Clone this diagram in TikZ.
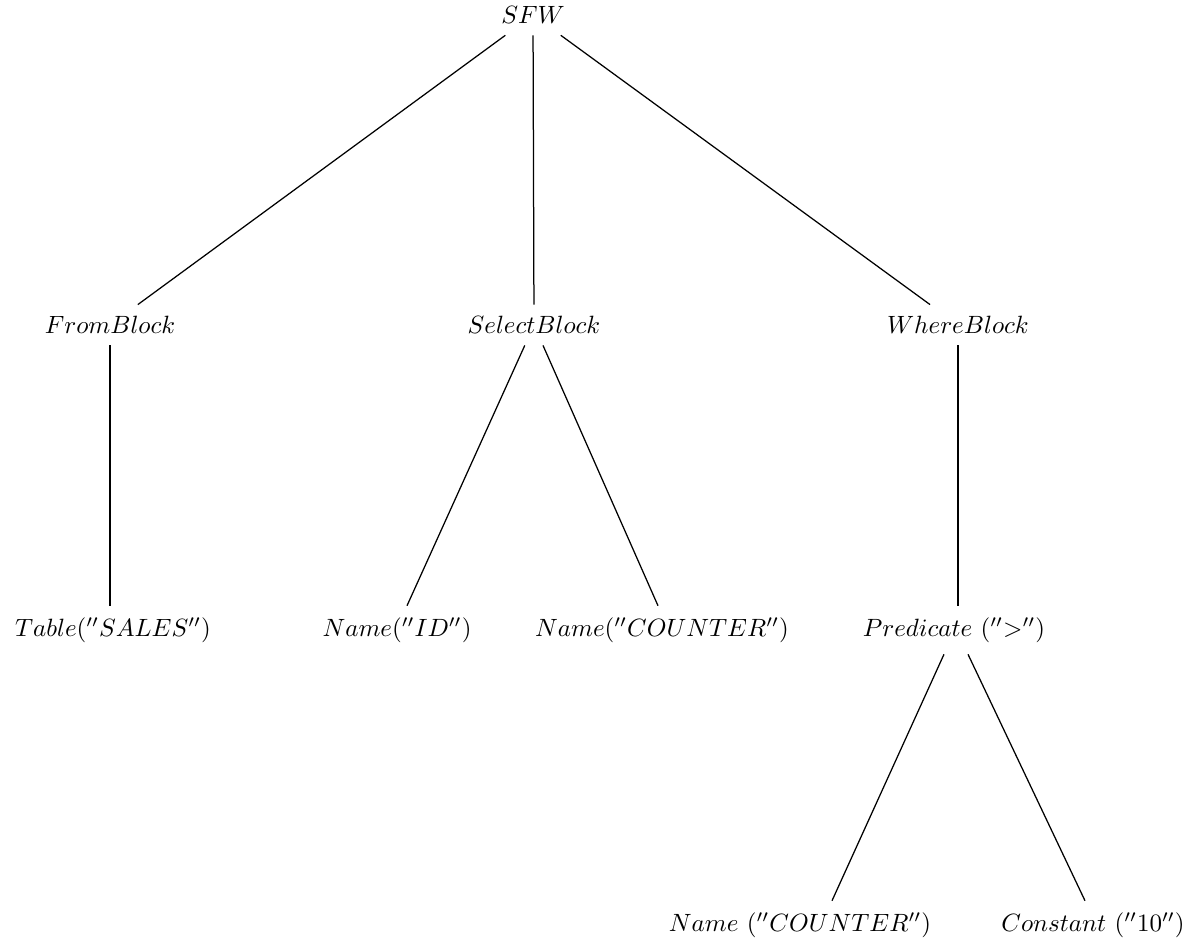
\documentclass[tikz,border=0pt]{standalone}
\begin{document}
\begin{tikzpicture}[x=0.4pt,y=-0.4pt,
  tn/.style={inner xsep=2pt,inner ysep=4.5pt},
  edge/.style={draw=black,line width=0.5pt}]
\useasboundingbox (0,0) rectangle (1194,942);
\node[tn] (sfw) at (533,15) {$SFW$};
\node[tn] (from) at (110,325) {$FromBlock$};
\node[tn] (sel) at (534,325) {$SelectBlock$};
\node[tn] (where) at (958,325) {$WhereBlock$};
\node[tn] (tab) at (113,630) {$Table(''SALES'')$};
\node[tn] (nid) at (397,630) {$Name(''ID'')$};
\node[tn] (ncnt) at (662,630) {$Name(''COUNTER'')$};
\node[tn] (pred) at (954,630) {$Predicate\ (''{>}'')$};
\node[tn] (n2) at (800,925) {$Name\ (''COUNTER'')$};
\node[tn] (const) at (1093,925) {$Constant\ (''10'')$};
\draw[edge] (sfw) -- (from);
\draw[edge] (sfw) -- (sel);
\draw[edge] (sfw) -- (where);
\draw[edge] (from.south) -- (from.south |- tab.north);
\draw[edge] (sel) -- ([xshift=4pt]nid.north);
\draw[edge] (sel) -- ([xshift=-1.6pt]ncnt.north);
\draw[edge] (where.south) -- (where.south |- pred.north);
\draw[edge] ([xshift=-4pt]pred.south) -- ([xshift=12.8pt]n2.north);
\draw[edge] ([xshift=5.6pt]pred.south) -- ([xshift=-3.2pt]const.north);
\end{tikzpicture}
\end{document}
